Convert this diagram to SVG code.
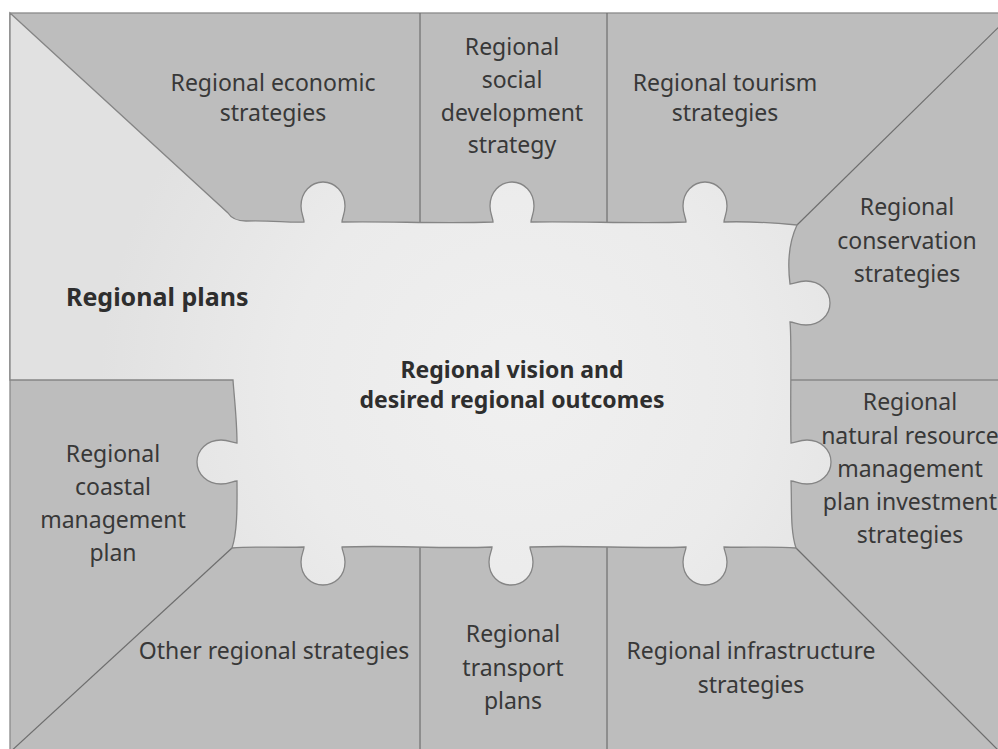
<svg xmlns="http://www.w3.org/2000/svg" width="998" height="749" viewBox="0 0 998 749">
<defs>
<radialGradient id="lightFill" cx="520" cy="385" r="420" gradientUnits="userSpaceOnUse">
<stop offset="0" stop-color="#f0f0f0"/>
<stop offset="0.55" stop-color="#ebebeb"/>
<stop offset="1" stop-color="#e1e1e1"/>
</radialGradient>
<style>
.dark{fill:#bdbdbd;stroke:#8a8a8a;stroke-width:1.3}
.light{fill:url(#lightFill);stroke:#858585;stroke-width:1.3}
.div{stroke:#6e6e6e;stroke-width:1.2;fill:none}
.lbl{font-family:"Noto Sans","Open Sans","DejaVu Sans",sans-serif;font-size:23px;fill:#383838;text-anchor:middle}
.bold{font-family:"Noto Sans","Open Sans","DejaVu Sans",sans-serif;font-weight:bold;fill:#2e2e2e}
</style>
</defs>
<rect x="0" y="0" width="998" height="749" fill="#ffffff"/>
<g id="frame">
<rect class="dark" x="10" y="13" width="1010" height="760"/>
</g>
<g id="dividers">
<line class="div" x1="797" y1="225" x2="1013" y2="13"/>
<line class="div" x1="796" y1="548" x2="1010" y2="762"/>
<line class="div" x1="232" y1="548" x2="8" y2="754"/>
<line class="div" x1="420" y1="13" x2="420" y2="222"/>
<line class="div" x1="607" y1="13" x2="607" y2="222"/>
<line class="div" x1="420" y1="547" x2="420" y2="760"/>
<line class="div" x1="607" y1="547" x2="607" y2="760"/>
<line class="div" x1="791" y1="380" x2="1010" y2="380"/>
</g>
<g id="vision">
<path class="light" d="M 10,13 L 228,213 Q 233,221 246,221 C 270,220 290,223 304,222 c 0,-4 -3,-8 -3,-16 c 0,-14 10,-24 22,-24 c 12,0 22,10 22,24 c 0,8 -3,12 -3,16 C 390,221 440,224 493,222 c 0,-4 -3,-8 -3,-16 c 0,-14 10,-24 22,-24 c 12,0 22,10 22,24 c 0,8 -3,12 -3,16 C 580,221 640,224 686,222 c 0,-4 -3,-8 -3,-16 c 0,-14 10,-24 22,-24 c 12,0 22,10 22,24 c 0,8 -3,12 -3,16 C 750,221 775,223 797,225 C 790,240 787,260 790,284 c 4,0 8,-3 16,-3 c 14,0 24,10 24,22 c 0,12 -10,22 -24,22 c -8,0 -12,-3 -16,-3 C 792,345 790,390 791,443 c 4,0 8,-3 16,-3 c 14,0 24,10 24,22 c 0,12 -10,22 -24,22 c -8,0 -12,-3 -16,-3 C 792,505 790,530 796,548 C 770,546 745,548 724,547 c 0,4 3,7 3,15 c 0,14 -10,23 -22,23 c -12,0 -22,-9 -22,-23 c 0,-8 3,-11 3,-15 C 640,549 580,545 530,547 c 0,4 3,7 3,15 c 0,14 -10,23 -22,23 c -12,0 -22,-9 -22,-23 c 0,-8 3,-11 3,-15 C 440,549 390,545 342,547 c 0,4 3,7 3,15 c 0,14 -10,23 -22,23 c -12,0 -22,-9 -22,-23 c 0,-8 3,-11 3,-15 C 280,548 255,546 232,548 C 238,530 237,500 237,481 c -4,0 -8,3 -16,3 c -14,0 -24,-10 -24,-22 c 0,-12 10,-22 24,-22 c 8,0 12,3 16,3 C 237,420 234,395 233,380 L 10,380 Z"/>
<text class="bold" font-size="23" text-anchor="middle" x="512" y="378">Regional vision and</text>
<text class="bold" font-size="23" text-anchor="middle" x="512" y="408">desired regional outcomes</text>
</g>
<g id="regional-plans">
<text class="bold" font-size="25" x="66" y="306">Regional plans</text>
</g>
<g id="economic">
<text class="lbl" x="273" y="91">Regional economic</text>
<text class="lbl" x="273" y="121">strategies</text>
</g>
<g id="social">
<text class="lbl" x="512" y="55">Regional</text>
<text class="lbl" x="512" y="88">social</text>
<text class="lbl" x="512" y="121">development</text>
<text class="lbl" x="512" y="153">strategy</text>
</g>
<g id="tourism">
<text class="lbl" x="725" y="91">Regional tourism</text>
<text class="lbl" x="725" y="121">strategies</text>
</g>
<g id="conservation">
<text class="lbl" x="907" y="215">Regional</text>
<text class="lbl" x="907" y="249">conservation</text>
<text class="lbl" x="907" y="282">strategies</text>
</g>
<g id="nrm">
<text class="lbl" font-size="22.5" x="910" y="410">Regional</text>
<text class="lbl" font-size="22.5" x="910" y="444">natural resource</text>
<text class="lbl" font-size="22.5" x="910" y="477">management</text>
<text class="lbl" font-size="22.5" x="910" y="510">plan investment</text>
<text class="lbl" font-size="22.5" x="910" y="543">strategies</text>
</g>
<g id="coastal">
<text class="lbl" x="113" y="462">Regional</text>
<text class="lbl" x="113" y="495">coastal</text>
<text class="lbl" x="113" y="528">management</text>
<text class="lbl" x="113" y="561">plan</text>
</g>
<g id="other">
<text class="lbl" x="274" y="659">Other regional strategies</text>
</g>
<g id="transport">
<text class="lbl" x="513" y="642">Regional</text>
<text class="lbl" x="513" y="676">transport</text>
<text class="lbl" x="513" y="709">plans</text>
</g>
<g id="infrastructure">
<text class="lbl" x="751" y="659">Regional infrastructure</text>
<text class="lbl" x="751" y="693">strategies</text>
</g>
</svg>
